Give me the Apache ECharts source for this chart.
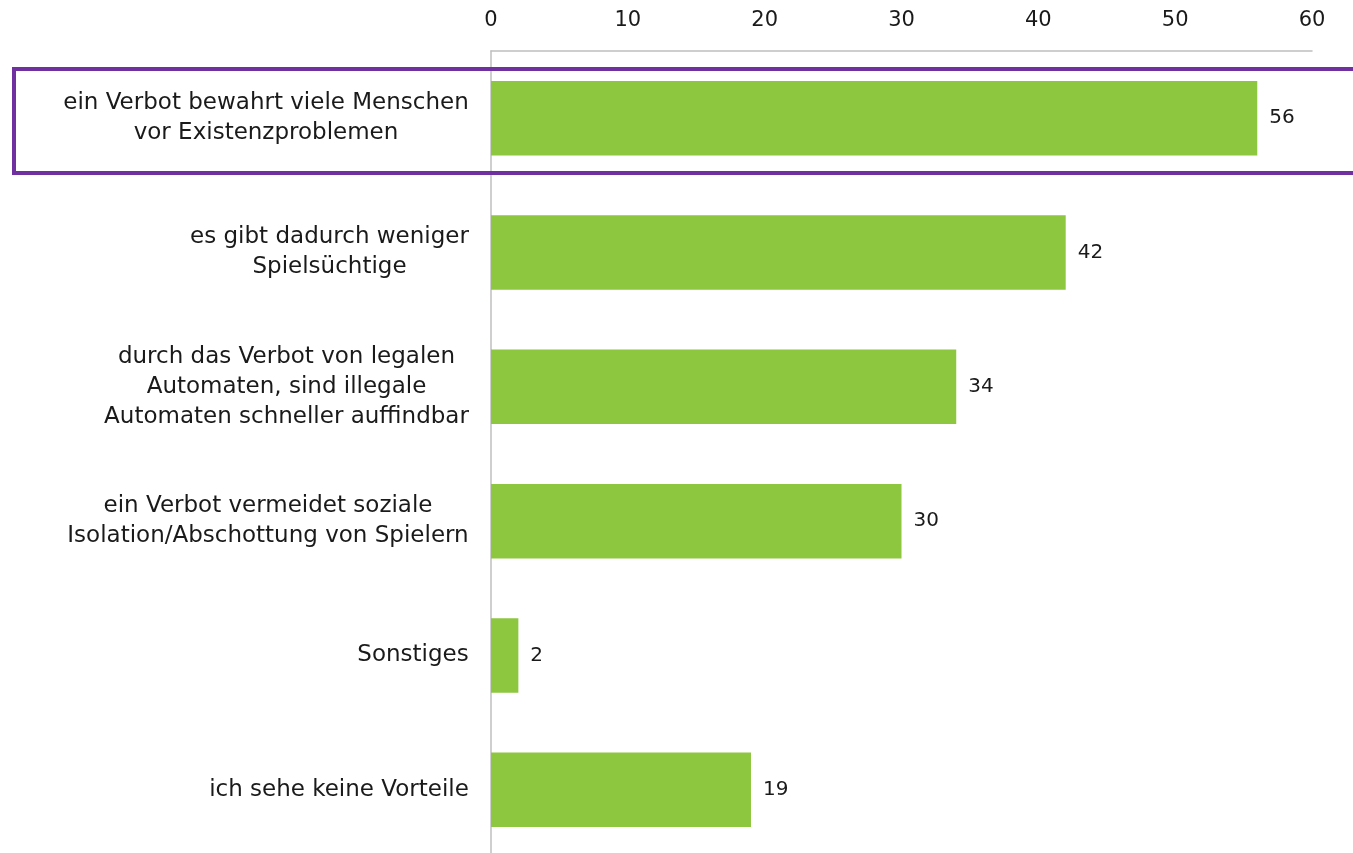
<!DOCTYPE html>
<html><head><meta charset="utf-8">
<script src="https://cdn.jsdelivr.net/npm/echarts@6/dist/echarts.min.js"></script>
<style>html,body{margin:0;padding:0;background:#fff}#c{width:1353px;height:853px}</style>
</head><body><div id="c"></div>
<script>
const categories = [
  "ein Verbot bewahrt viele Menschen\nvor Existenzproblemen",
  "es gibt dadurch weniger\nSpielsüchtige",
  "durch das Verbot von legalen\nAutomaten, sind illegale\nAutomaten schneller auffindbar",
  "ein Verbot vermeidet soziale\nIsolation/Abschottung von Spielern",
  "Sonstiges",
  "ich sehe keine Vorteile"
];
const values = [56, 42, 34, 30, 2, 19];
const xTicks = [0, 10, 20, 30, 40, 50, 60];

const FONT = '"DejaVu Sans", sans-serif';
const LABEL_SIZE = 23;
const cv = document.createElement('canvas').getContext('2d');
cv.font = LABEL_SIZE + 'px ' + FONT;
const rich = {};
categories.forEach((c, i) => {
  const w = Math.max(...c.split('\n').map(l => cv.measureText(l).width));
  rich['l' + i] = { width: Math.ceil(w) + 2, align: 'center', fontSize: LABEL_SIZE, fontFamily: FONT, color: '#1a1a1a', lineHeight: 30 };
});

const chart = echarts.init(document.getElementById('c'), null, { renderer: 'canvas' });
chart.setOption({
  animation: false,
  grid: { left: 491, right: 41, top: 51, height: 806, containLabel: false, outerBoundsMode: 'none' },
  xAxis: {
    type: 'value', position: 'top', min: xTicks[0], max: xTicks[xTicks.length - 1], interval: 10,
    axisLine: { show: true, lineStyle: { color: '#BFBFBF', width: 1.5 } },
    axisTick: { show: false },
    splitLine: { show: false },
    axisLabel: { margin: 20, fontSize: 21, fontFamily: FONT, color: '#1a1a1a' }
  },
  yAxis: {
    type: 'category', inverse: true, data: categories,
    axisLine: { show: true, lineStyle: { color: '#BFBFBF', width: 1.5 } },
    axisTick: { show: false },
    axisLabel: {
      margin: 21, align: 'right',
      formatter: (v, idx) => v.split('\n').map(l => '{l' + idx + '|' + l + '}').join('\n'),
      rich: rich
    }
  },
  series: [{
    type: 'bar', data: values, barCategoryGap: '44.5%',
    itemStyle: { color: '#8DC63F' },
    label: { show: true, position: 'right', distance: 12, fontSize: 20, fontFamily: FONT, color: '#1a1a1a' }
  }],
  graphic: [{
    type: 'rect', z: 100,
    shape: { x: 14, y: 69, width: 1360, height: 104 },
    style: { fill: 'none', stroke: '#7030A0', lineWidth: 4 }
  }]
});
</script></body></html>
